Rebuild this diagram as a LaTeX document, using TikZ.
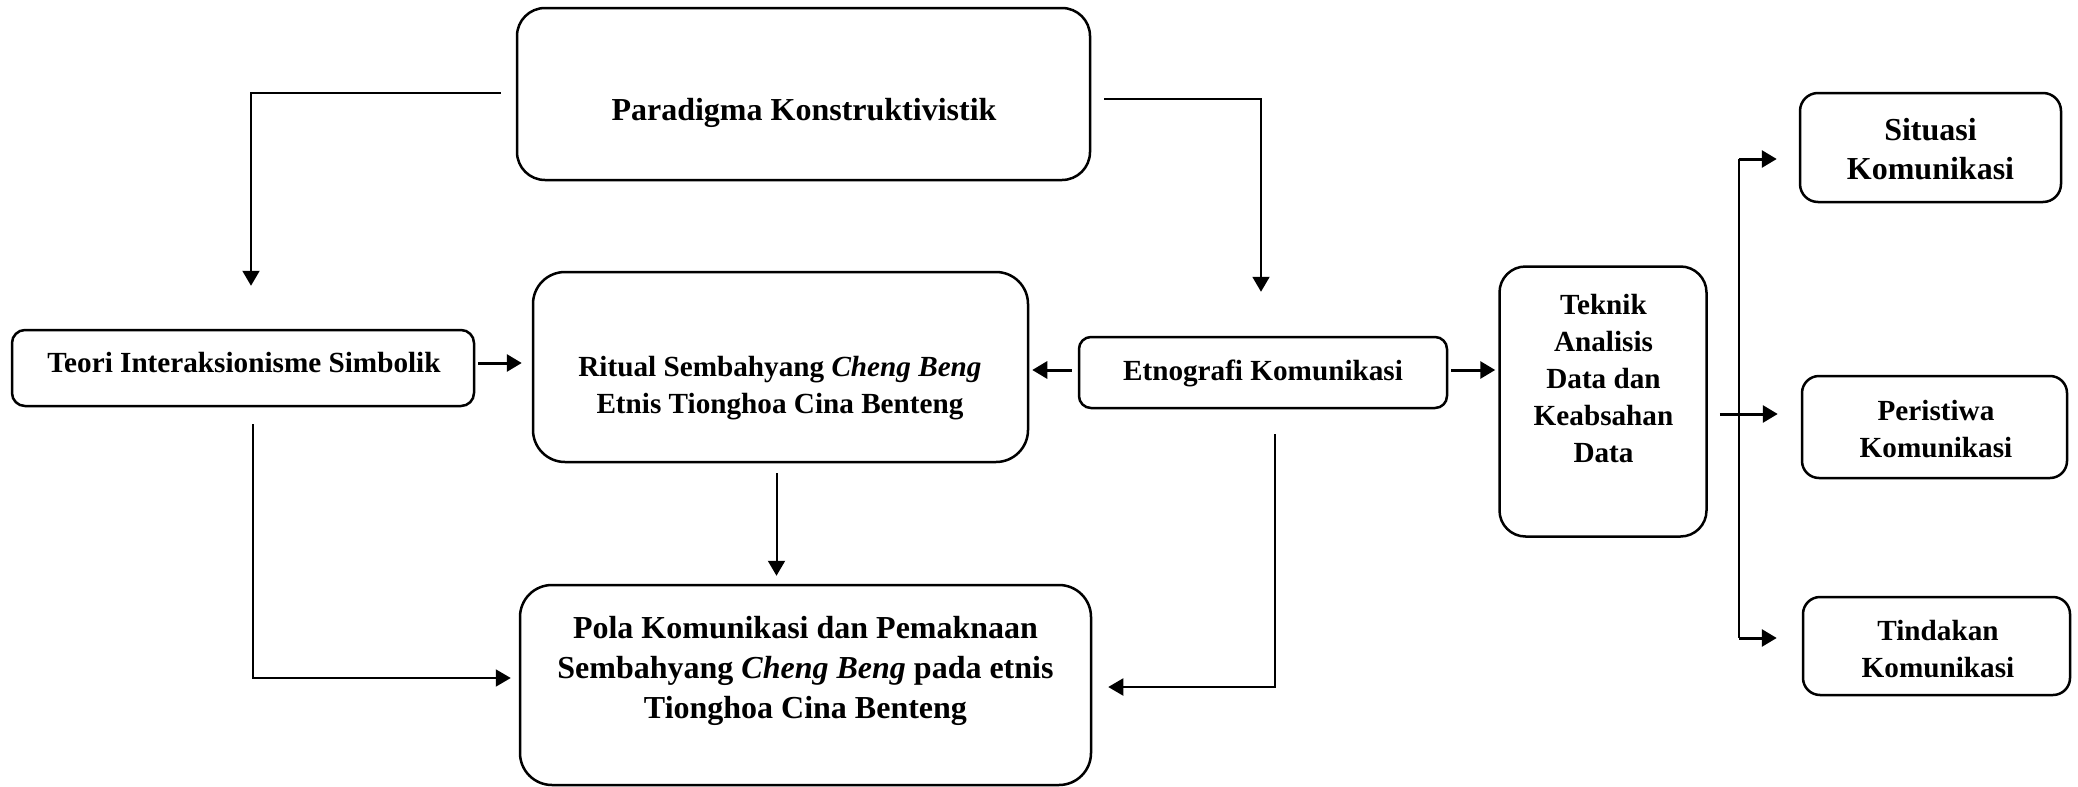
\documentclass[tikz,border=0pt]{standalone}
\usepackage{fontspec}
\setmainfont{Liberation Serif}
\usetikzlibrary{arrows.meta,calc}
\begin{document}
\begin{tikzpicture}[x=0.5pt,y=-0.5pt,
  box/.style={draw,line width=1.25pt,inner sep=0pt},
  bigtxt/.style={font=\bfseries\fontsize{16pt}{20pt}\selectfont,align=center,anchor=base,inner sep=0pt},
  smalltxt/.style={font=\bfseries\fontsize{14.6pt}{18.5pt}\selectfont,align=center,anchor=base,inner sep=0pt},
  conn/.style={line width=1pt,-{Triangle[length=7.5pt,width=8.5pt]}},
  connthick/.style={line width=1.5pt,-{Triangle[length=7.5pt,width=8.5pt]}},
  plain/.style={line width=1pt}]
\useasboundingbox (0,0) rectangle (2078,787);

% boxes
\node[box,minimum width=286.5pt,minimum height=86pt,rounded corners=14pt] (para) at (803.5,94) {};
\node[box,minimum width=231pt,minimum height=38pt,rounded corners=6.5pt] (teori) at (243,368) {};
\node[box,minimum width=247.5pt,minimum height=95pt,rounded corners=16pt] (ritual) at (780.5,367) {};
\node[box,minimum width=184pt,minimum height=35.5pt,rounded corners=6pt] (etno) at (1263,372.5) {};
\node[box,minimum width=103.5pt,minimum height=135pt,rounded corners=13pt] (teknik) at (1603,401.5) {};
\node[box,minimum width=130.5pt,minimum height=54.5pt,rounded corners=9pt] (situasi) at (1930.5,147.5) {};
\node[box,minimum width=132.5pt,minimum height=51pt,rounded corners=8.5pt] (peristiwa) at (1934.5,427) {};
\node[box,minimum width=133.5pt,minimum height=49pt,rounded corners=8.5pt] (tindakan) at (1936.5,646) {};
\node[box,minimum width=285.5pt,minimum height=100pt,rounded corners=16pt] (pola) at (805.5,685) {};

% texts (anchor=base is the baseline of the last line)
\node[bigtxt] (paraT) at (804,120) {Paradigma Konstruktivistik};
\node[smalltxt] (teoriT) at (244,372) {Teori Interaksionisme Simbolik};
\node[smalltxt] (ritualT) at (780,413) {Ritual Sembahyang \textit{Cheng Beng}\\Etnis Tionghoa Cina Benteng};
\node[smalltxt] (etnoT) at (1263,380) {Etnografi Komunikasi};
\node[font=\bfseries\fontsize{14.6pt}{18.4pt}\selectfont,align=center,anchor=base,inner sep=0pt] (teknikT) at (1603.5,462) {Teknik\\Analisis\\Data dan\\Keabsahan\\Data};
\node[font=\bfseries\fontsize{16pt}{19.5pt}\selectfont,align=center,anchor=base,inner sep=0pt] (situasiT) at (1930.5,179) {Situasi\\Komunikasi};
\node[smalltxt] (peristiwaT) at (1936,457) {Peristiwa\\Komunikasi};
\node[smalltxt] (tindakanT) at (1938,677) {Tindakan\\Komunikasi};
\node[bigtxt] (polaT) at (805.5,718) {Pola Komunikasi dan Pemaknaan\\Sembahyang \textit{Cheng Beng} pada etnis\\Tionghoa Cina Benteng};

% connectors
\draw[conn] ($(para.west)+(-15,-1)$) -| ($(teori.north)+(8,-43)$);
\draw[conn] ($(para.east)+(13,5)$) -| ($(etno.north)+(-2,-44)$);
\draw[connthick] ($(teori.east)+(3,-5)$) -- ($(ritual.west)+(-10,-4)$);
\draw[connthick] ($(etno.west)+(-6,-2.5)$) -- ($(ritual.east)+(3,3)$);
\draw[connthick] ($(etno.east)+(3,-2.5)$) -- ($(teknik.west)+(-3,-31.5)$);
\draw[conn] ($(teori.south)+(9.5,17)$) |- ($(pola.west)+(-8,-7)$);
\draw[conn] ($(ritual.south)+(-4,10)$) -- ($(pola.north)+(-29,-8)$);
\draw[conn] ($(etno.south)+(12,25)$) |- ($(pola.east)+(16,2)$);

% fan to the right
\coordinate (fanTop) at ($(situasi.west)+(-60,11.5)$);
\coordinate (fanBot) at ($(tindakan.west)+(-63,-8)$);
\draw[plain] (fanTop) -- (fanBot);
\draw[connthick] (fanTop) -- ($(situasi.west)+(-22,11.5)$);
\draw[connthick] (fanBot) -- ($(tindakan.west)+(-25,-8)$);
\draw[connthick] ($(teknik.east)+(12,12.5)$) -- ($(peristiwa.west)+(-23,-13)$);
\end{tikzpicture}
\end{document}
